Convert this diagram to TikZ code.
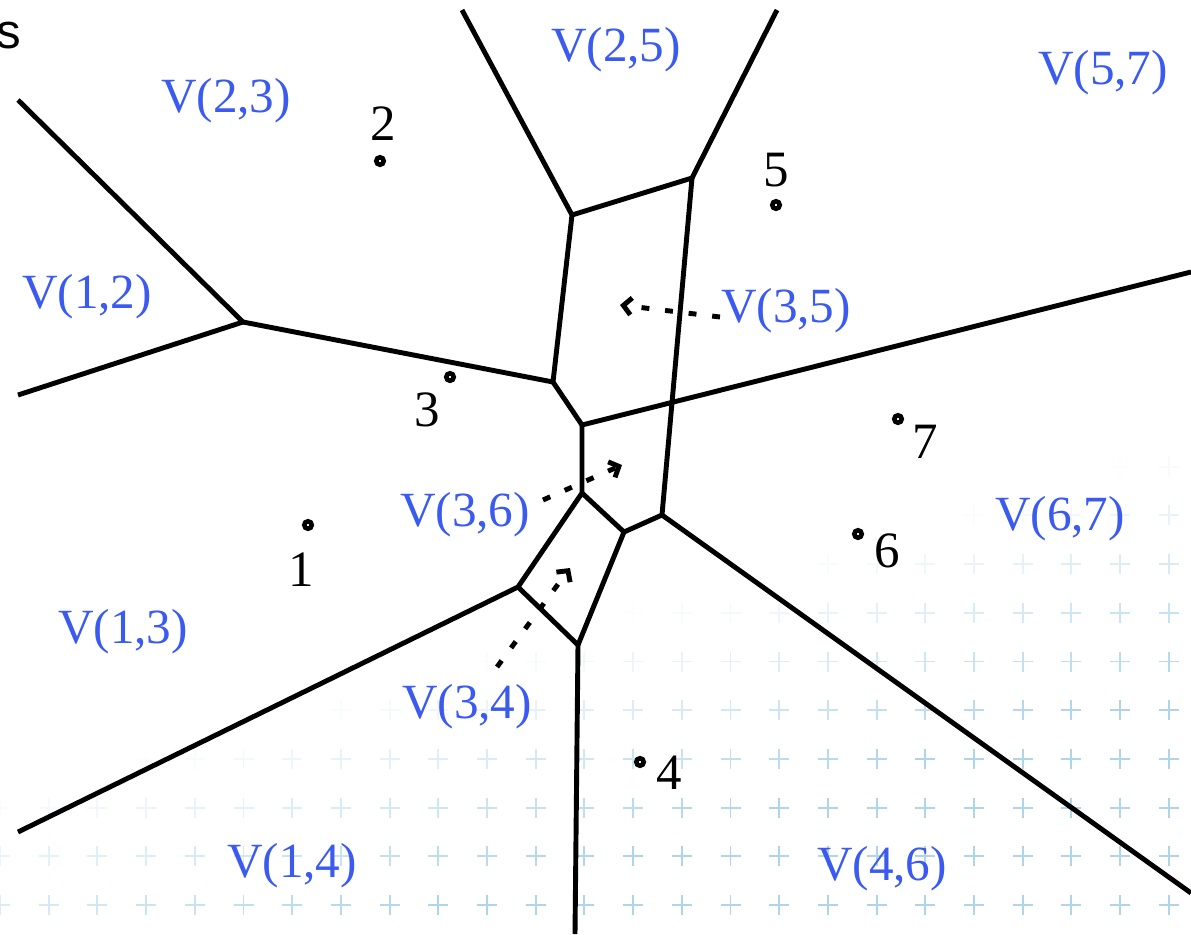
\documentclass[tikz,border=0pt]{standalone}
\usepackage{fontspec}
\setmainfont{Liberation Serif}
\newfontfamily\sansf{Liberation Sans}
\usetikzlibrary{arrows.meta}
\definecolor{vblue}{RGB}{58,90,240}
\definecolor{gridblue}{RGB}{110,180,220}
\begin{document}
\begin{tikzpicture}[x=0.02cm,y=-0.02cm,
  edge/.style={line width=2.8pt, line join=round},
  site/.style={circle, draw, fill=white, line width=2.6pt, minimum size=0.15cm, inner sep=0pt},
  num/.style={font=\fontsize{29}{32}\selectfont, inner sep=0pt},
  vlab/.style={font=\fontsize{28}{32}\selectfont, text=vblue, inner sep=1pt},
  darr/.style={line width=2.8pt, dash pattern=on 4.5pt off 9pt,
    -{Straight Barb[length=0.16cm,width=0.34cm]}},
  plus/.style={gridblue, line width=1.1pt}
]
\useasboundingbox (0,0) rectangle (1191,934);
\fill[white] (0,0) rectangle (1191,934);
% faint background grid of plus marks
\foreach \i in {0,...,24}{
  \foreach \j in {0,...,10}{
    \pgfmathsetmacro\px{48.7*\i}
    \pgfmathsetmacro\py{905-48.7*\j}
    \pgfmathsetmacro\op{max(0,min(1,(\py+0.3*\px-795)/240))*0.55}
    \ifdim\op pt>0.01pt
      \draw[plus, opacity=\op] (\px-10,\py) -- (\px+10,\py) (\px,\py-10) -- (\px,\py+10);
    \fi
  }
}
% Voronoi vertices
\coordinate (A) at (243,322);
\coordinate (B) at (553,382);
\coordinate (C) at (572,215);
\coordinate (E) at (692,178);
\coordinate (D) at (582,425);
\coordinate (G) at (582,493);
\coordinate (I) at (624,532);
\coordinate (F) at (662,515);
\coordinate (H) at (518,587);
\coordinate (J) at (578,645);
% free ends
\coordinate (eTL) at (18,100);
\coordinate (eL) at (18,395);
\coordinate (eT1) at (462,10);
\coordinate (eT2) at (777,10);
\coordinate (eR) at (1191,272);
\coordinate (eBR) at (1191,893);
\coordinate (eB) at (575,934);
\coordinate (eBL) at (18,832);
% edges
\draw[edge] (eTL) -- (A) -- (eL);
\draw[edge] (A) -- (B) -- (C) -- (eT1);
\draw[edge] (C) -- (E) -- (eT2);
\draw[edge] (E) -- (F) -- (eBR);
\draw[edge] (B) -- (D) -- (eR);
\draw[edge] (D) -- (G) -- (H) -- (eBL);
\draw[edge] (G) -- (I) -- (F);
\draw[edge] (H) -- (J) -- (I);
\draw[edge] (J) -- (eB);
% sites
\node[site] (s1) at (308,525) {};
\node[site] (s2) at (380,161) {};
\node[site] (s3) at (450,377) {};
\node[site] (s4) at (640,762) {};
\node[site] (s5) at (776,205) {};
\node[site] (s6) at (858,534) {};
\node[site] (s7) at (898,419) {};
\node[num] (n1) at (301,570) {1};
\node[num] (n2) at (383,124) {2};
\node[num] (n3) at (427,410) {3};
\node[num] (n4) at (669,773) {4};
\node[num] (n5) at (776,170) {5};
\node[num] (n6) at (887,551) {6};
\node[num] (n7) at (925,442) {7};
% region labels
\node[vlab] (l23) at (226,101) {V(2,3)};
\node[vlab] (l25) at (616,50) {V(2,5)};
\node[vlab] (l57) at (1103,73) {V(5,7)};
\node[vlab] (l12) at (87,297) {V(1,2)};
\node[vlab] (l35) at (786,311) {V(3,5)};
\node[vlab] (l36) at (465,515) {V(3,6)};
\node[vlab] (l67) at (1060,519) {V(6,7)};
\node[vlab] (l13) at (123,632) {V(1,3)};
\node[vlab] (l34) at (467,707) {V(3,4)};
\node[vlab] (l14) at (292,866) {V(1,4)};
\node[vlab] (l46) at (882,869) {V(4,6)};
% partial title text (cut off at the left edge, as in the reference)
\node[font=\sansf\fontsize{28}{32}\selectfont, anchor=base east, inner sep=0pt] (title) at (21,48) {s};
% dotted arrows
\coordinate (t35) at (620,305);
\coordinate (t36) at (622,465);
\coordinate (t34) at (570,568);
\coordinate (s35) at (720,317);
\coordinate (s36) at (543,500);
\coordinate (s34) at (497,667);
\draw[darr] (s35) -- (t35);
\draw[darr] (s36) -- (t36);
\draw[darr] (s34) -- (t34);
\end{tikzpicture}
\end{document}
